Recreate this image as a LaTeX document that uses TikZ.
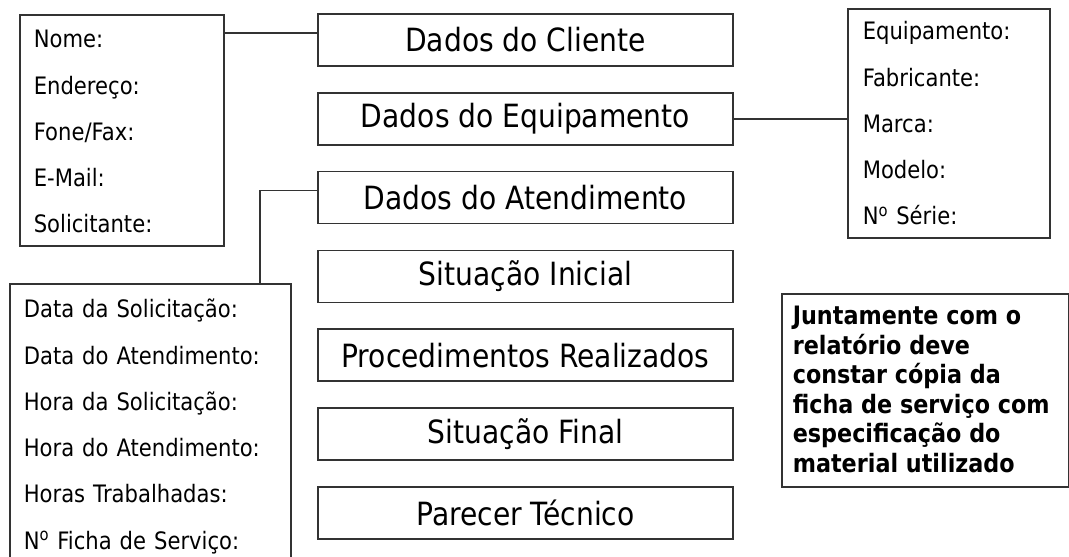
\documentclass[tikz,border=0pt]{standalone}
\usepackage{fontspec}
\setmainfont[FakeStretch=0.88]{DejaVu Sans}
\newfontfamily\notefont[FakeStretch=0.88]{DejaVu Sans Bold}
\usepackage{tikz}
\usetikzlibrary{positioning}
\tikzset{ficha/.style={x=0.75pt,y=0.75pt,line width=1.2pt,draw=black!80},
    topic/.style={rectangle,draw,minimum width=311.25pt,minimum height=39pt,inner sep=0pt,font=\fontsize{24}{28}\selectfont},
    fields/.style={rectangle,draw,anchor=north west,align=left,inner xsep=10.5pt,inner ysep=0pt,font=\fontsize{18}{34.7}\selectfont},
    note/.style={rectangle,draw,anchor=north west,inner xsep=8.25pt,inner ysep=0pt,font=\notefont\fontsize{19}{22.1}\selectfont}}
\newcommand{\topgap}[1]{\rule{0pt}{#1}}
\newcommand{\botgap}[1]{\rule[-#1]{0pt}{#1}}

\begin{document}
\begin{tikzpicture}[ficha]
    \useasboundingbox (0,0) rectangle (1069,-556);
    % centre column
    \node[topic](dcliente) at (525.5,-40){Dados do Cliente};
    \node[topic,below=18.9pt of dcliente](dequip){Dados do Equipamento};
    \node[topic,below=18.9pt of dequip](datend){Dados do Atendimento};
    \node[topic,below=18.9pt of datend](sinicial){Situação Inicial};
    \node[topic,below=18.9pt of sinicial](proced){Procedimentos Realizados};
    \node[topic,below=18.9pt of proced](sfinal){Situação Final};
    \node[topic,below=18.9pt of sfinal](parecer){Parecer Técnico};

    % field lists
    \node[fields,text width=132pt](cliente) at (19,-14){\topgap{24.75pt}Nome:\\
        Endereço:\\
        Fone/Fax:\\
        E-Mail:\\
        Solicitante:\botgap{9.75pt}};
    \node[fields,text width=129pt,inner xsep=11.25pt](equipamento) at (847,-8){\topgap{23.25pt}Equipamento:\\
        Fabricante:\\
        Marca:\\
        Modelo:\\
        N\textsuperscript{o} Série:\botgap{9.75pt}};
    \node[fields,text width=189.75pt](atendimento) at (9,-283){\topgap{25.5pt}Data da Solicitação:\\
        Data do Atendimento:\\
        Hora da Solicitação:\\
        Hora do Atendimento:\\
        Horas Trabalhadas:\\
        N\textsuperscript{o} Ficha de Serviço:\botgap{9.75pt}};
    \node[note](obs) at (781,-293){\parbox{198.75pt}{\raggedright\topgap{23.25pt}Juntamente com o\\
        relatório deve\\
        constar cópia da\\
        ficha de serviço com\\
        especificação do\\
        material utilizado\botgap{11.25pt}}};

    \coordinate (dobra) at (260,0);
    \draw ([yshift=5.25pt]dcliente.west) -- ([yshift=5.25pt]dcliente.west -| cliente.east);
    \draw (dequip.east) -- (dequip.east -| equipamento.west);
    \draw ([yshift=5.25pt]datend.west) -| (atendimento.north -| dobra);
\end{tikzpicture}
\end{document}
